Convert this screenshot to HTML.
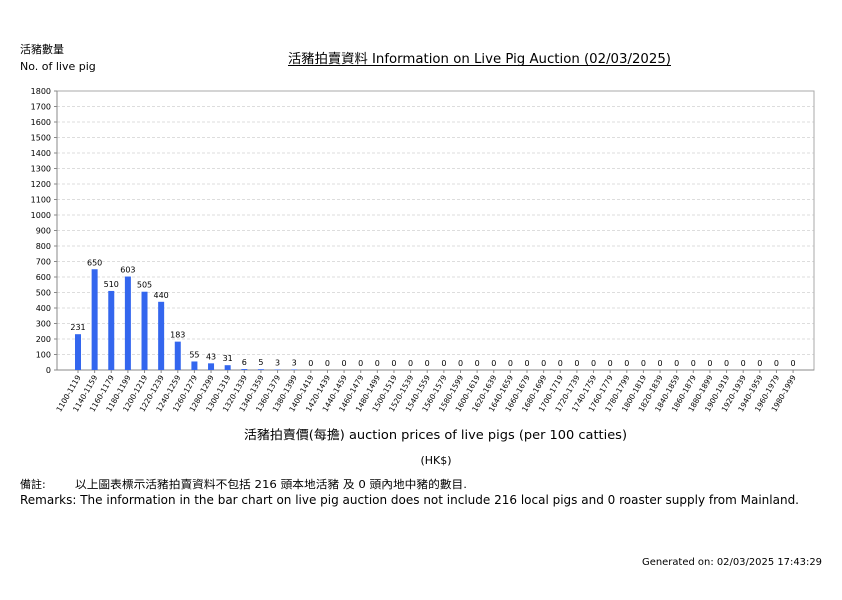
<!DOCTYPE html>
<html><head><meta charset="utf-8"><style>
body{margin:0;background:#fff;width:842px;height:595px;overflow:hidden;}
</style></head><body>
<svg width="842" height="595" xmlns="http://www.w3.org/2000/svg" font-family="DejaVu Sans, Noto Sans CJK TC, sans-serif">
<text x="20" y="53" font-size="11">活豬數量</text>
<text x="20" y="70" font-size="11">No. of live pig</text>
<text x="288" y="63" font-size="13" textLength="383" lengthAdjust="spacingAndGlyphs">活豬拍賣資料 Information on Live Pig Auction (02/03/2025)</text>
<line x1="288" y1="65.5" x2="671" y2="65.5" stroke="#000" stroke-width="1"/>
<g id="grid"></g>
<rect x="57" y="91" width="757" height="279" fill="none" stroke="#aaa"/>
<line x1="57" y1="91" x2="57" y2="370" stroke="#888"/>
<line x1="57" y1="370" x2="814" y2="370" stroke="#888"/>
<g id="chart"></g>
<text x="244" y="439" font-size="12.5" textLength="383" lengthAdjust="spacingAndGlyphs">活豬拍賣價(每擔) auction prices of live pigs (per 100 catties)</text>
<text x="436" y="464" font-size="11" text-anchor="middle">(HK$)</text>
<text x="20" y="488" font-size="11">備註:</text>
<text x="75" y="488" font-size="11" textLength="392" lengthAdjust="spacingAndGlyphs">以上圖表標示活豬拍賣資料不包括 216 頭本地活豬 及 0 頭內地中豬的數目.</text>
<text x="20" y="504" font-size="12" textLength="779" lengthAdjust="spacingAndGlyphs">Remarks: The information in the bar chart on live pig auction does not include 216 local pigs and 0 roaster supply from Mainland.</text>
<text x="642" y="565" font-size="9.5" textLength="180" lengthAdjust="spacingAndGlyphs">Generated on: 02/03/2025 17:43:29</text>
</svg>
<script>
var ns="http://www.w3.org/2000/svg",g=document.getElementById('chart'),gr=document.getElementById('grid');
function el(p,t,a,txt){var e=document.createElementNS(ns,t);for(var k in a)e.setAttribute(k,a[k]);if(txt!=null)e.textContent=txt;p.appendChild(e);return e;}
for(var v=0;v<=1800;v+=100){var y=370-v*279/1800;
 if(v>0&&v<1800)el(gr,'line',{x1:57,x2:814,y1:y,y2:y,stroke:'#ddd','stroke-dasharray':'3,2'});
 el(g,'line',{x1:54,x2:57,y1:y,y2:y,stroke:'#888'});
 el(g,'text',{x:51,y:y+3,'font-size':8,'text-anchor':'end'},v);}
var vals=[231,650,510,603,505,440,183,55,43,31,6,5,3,3];
var starts=[1100];for(var s=1140;s<=1980;s+=20)starts.push(s);
starts.forEach(function(s,i){var cx=78+i*16.63,v=vals[i]||0,h=v*279/1800;
 if(h>0)el(g,'rect',{x:cx-3,y:370-h,width:6,height:h,fill:'#3366ee'});
 el(g,'text',{x:cx,y:366-h,'font-size':8,'text-anchor':'middle'},v);
 el(g,'line',{x1:cx,x2:cx,y1:370,y2:373,stroke:'#888'});
 el(g,'text',{x:cx+3,y:377,'font-size':7.5,'text-anchor':'end',transform:'rotate(-60 '+(cx+3)+' 377)'},s+'-'+(s+19));});
</script>
</body></html>
